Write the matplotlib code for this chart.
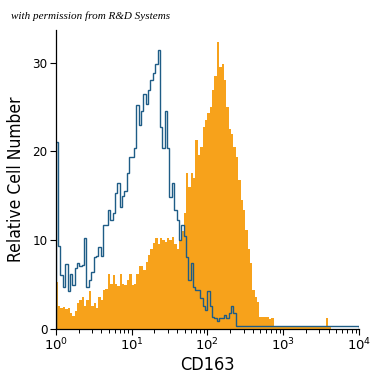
import numpy as np
import matplotlib
matplotlib.use("Agg")
import matplotlib.pyplot as plt
from matplotlib.ticker import LogLocator, NullFormatter, FixedLocator

# 128 log channels from 10^0 to 10^4
edges = np.logspace(0, 4, 129)

isotype = [21, 9.3, 6, 4.7, 7.3, 4.2, 6.2, 4.9, 6.8, 7.4,
           7.0, 7.2, 10.2, 4.7, 5.5, 6.4, 8.1, 8.2, 9.2, 8.2,
           11.7, 11.7, 13.4, 12.2, 13, 15.3, 16.4, 13.7, 15, 15.5,
           17.5, 19.4, 19.4, 20.4, 25.2, 23, 24.5, 26.5, 25.4, 26.9,
           28, 28.8, 29.9, 31.4, 22.8, 20.4, 24.5, 20.4, 14.9, 16.4,
           13.4, 12.2, 10, 11.7, 10.4, 8.1, 5.5, 7.4, 4.7, 4.3,
           4.3, 3.4, 2.5, 2.1, 4.2, 2.5, 1.3, 1.2, 0.9, 1.2,
           1.2, 1.5, 1.2, 1.7, 2.5, 1.7] + [0.25] * 52

cd163 = [5.3, 2.5, 2.3, 2.4, 2.2, 2.3, 1.7, 1.4, 2.0, 2.9,
         3.2, 3.6, 2.5, 3.2, 4.2, 2.5, 2.9, 2.3, 3.5, 3.2,
         4.3, 4.5, 6.2, 5.0, 6.0, 5.0, 4.8, 6.2, 5.0, 4.9,
         5.5, 6.2, 4.9, 5.0, 6.2, 7.0, 7.0, 6.6, 7.5, 8.3,
         9.0, 9.7, 10.2, 9.5, 10.2, 10.0, 9.8, 10.2, 10.0, 10.3,
         9.5, 9.0, 10.0, 11.0, 13.0, 17.5, 16.0, 17.5, 17.0, 21.3,
         19.6, 20.5, 22.8, 23.5, 24.3, 25.0, 26.9, 28.5, 32.4, 29.5,
         29.9, 28.0, 25.0, 22.5, 22.0, 20.5, 19.4, 16.8, 14.5, 13.4,
         11.1, 9.0, 7.4, 4.3, 3.6, 3.0, 1.3, 1.3, 1.3, 1.3,
         1.1, 1.2] + [0.3] * 22 + [1.2, 0.3] + [0] * 12

fig = plt.figure(figsize=(3.75, 3.75), dpi=100)
ax = fig.add_axes([0.1485, 0.124, 0.8088, 0.796])

ax.stairs(cd163, edges, fill=True, color='#F7A21B', linewidth=0)
ax.stairs(isotype, edges, color='#1E5C86', linewidth=1.0)

ax.set_xscale('log')
ax.set_xlim(1, 1e4)
ax.set_ylim(0, 33.7)

for s in ['top', 'right']:
    ax.spines[s].set_visible(False)
ax.spines['left'].set_linewidth(0.9)
ax.spines['bottom'].set_linewidth(0.9)

fam = ['DejaVu Sans']
fkw = dict(family=fam, stretch='condensed')
ax.xaxis.set_minor_locator(LogLocator(base=10, subs=np.arange(2, 10), numticks=20))
ax.xaxis.set_minor_formatter(NullFormatter())
ax.set_xticks([1, 10, 100, 1000, 10000])
ax.set_xticklabels([r'$10^0$', r'$10^1$', r'$10^2$', r'$10^3$', r'$10^4$'])
ax.yaxis.set_major_locator(FixedLocator([0, 10, 20, 30]))
ax.tick_params(axis='both', which='major', length=4, width=0.8, labelsize=9.5, pad=2)
ax.tick_params(axis='x', which='minor', length=3, width=0.7)
for lab in ax.get_xticklabels() + ax.get_yticklabels():
    lab.set_family(fam)
    lab.set_stretch('condensed')

ax.set_xlabel('CD163', fontsize=13, labelpad=2, **fkw)
ax.set_ylabel('Relative Cell Number', fontsize=12.5, labelpad=5, **fkw)

fig.text(0.03, 0.957, 'with permission from R&D Systems', fontsize=8, va='center',
         style='italic', family=['Liberation Serif', 'DejaVu Serif'])

fig.savefig('out.png', dpi=100, facecolor='white')
